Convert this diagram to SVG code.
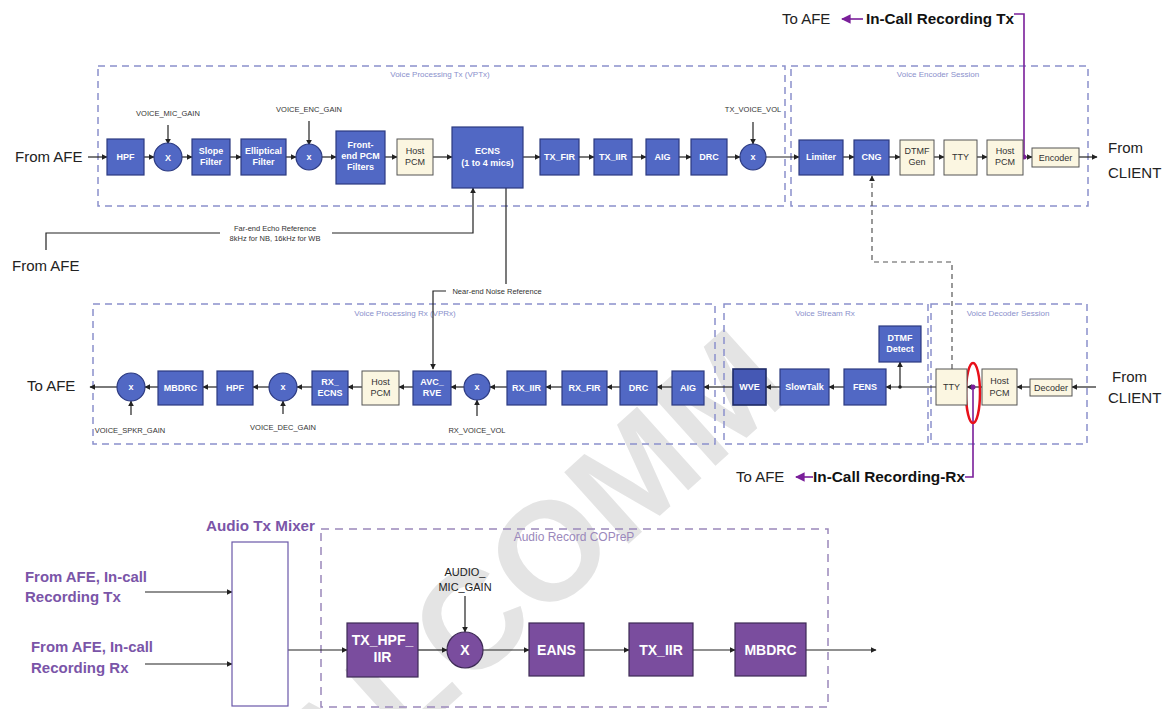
<svg xmlns="http://www.w3.org/2000/svg" width="1167" height="709" viewBox="0 0 1167 709">
  <defs>
    <marker id="arr" viewBox="0 0 10 10" refX="9" refY="5" markerWidth="5" markerHeight="5" orient="auto">
      <path d="M0,0 L10,5 L0,10 z" fill="#222"/>
    </marker>
    <marker id="arrP" viewBox="0 0 10 10" refX="9" refY="5" markerWidth="6" markerHeight="6" orient="auto">
      <path d="M0,0 L10,5 L0,10 z" fill="#7a1f9a"/>
    </marker>
    <style>
      .blk{fill:#5168c4;stroke:#2c3a80;stroke-width:1.2}
      .wve{fill:#4558b4;stroke:#1f2b66;stroke-width:1.6}
      .beige{fill:#fbf6e1;stroke:#555;stroke-width:1}
      .pur{fill:#7a4d9e;stroke:#3d2a55;stroke-width:1.2}
      .bt{fill:#fff;font-family:"Liberation Sans",Arial,sans-serif;font-weight:bold;font-size:9px;text-anchor:middle}
      .dt{fill:#333;font-family:"Liberation Sans",Arial,sans-serif;font-size:9px;text-anchor:middle}
      .pt{fill:#fff;font-family:"Liberation Sans",Arial,sans-serif;font-weight:bold;font-size:14px;text-anchor:middle}
      .lbl{fill:#333;font-family:"Liberation Sans",Arial,sans-serif;font-size:7.5px;text-anchor:middle}
      .grp{fill:none;stroke:#8a90cc;stroke-width:1.5;stroke-dasharray:7 5}
      .grpP{fill:none;stroke:#9a88bb;stroke-width:1.5;stroke-dasharray:8 6}
      .gl{fill:#8a90cc;font-family:"Liberation Sans",Arial,sans-serif;font-size:8px;text-anchor:middle}
      .big{fill:#222;font-family:"Liberation Sans",Arial,sans-serif;font-size:15px}
      .rec{fill:#111;font-family:"Liberation Sans",Arial,sans-serif;font-weight:bold;font-size:15px}
      .pl{fill:#7a55a8;font-family:"Liberation Sans",Arial,sans-serif;font-weight:bold;font-size:15px}
      .wire{fill:none;stroke:#222;stroke-width:1.2}
      .pw{fill:none;stroke:#7a1f9a;stroke-width:1.6}
      .dash{fill:none;stroke:#555;stroke-width:1.2;stroke-dasharray:5 4}
    </style>
  </defs>

  <rect width="1167" height="709" fill="#fff"/>

  <!-- background watermark -->
  <text transform="translate(171,956) rotate(-42)" x="0" y="0" font-family="Liberation Sans,Arial,sans-serif" font-weight="bold" font-size="140" fill="#e4e4e4">QUALCOMM</text>

  <!-- group frames -->
  <g id="frames">
    <rect class="grp" x="98" y="66" width="687" height="140"/>
    <text class="gl" x="440" y="77">Voice Processing Tx (VPTx)</text>
    <rect class="grp" x="791" y="66" width="297" height="140"/>
    <text class="gl" x="938" y="77">Voice Encoder Session</text>
    <rect class="grp" x="93" y="304" width="622" height="140"/>
    <text class="gl" x="405" y="316">Voice Processing Rx (VPRx)</text>
    <rect class="grp" x="724" y="304" width="204" height="140"/>
    <text class="gl" x="825" y="316">Voice Stream Rx</text>
    <rect class="grp" x="931" y="304" width="156" height="140"/>
    <text class="gl" x="1008" y="316">Voice Decoder Session</text>
    <rect class="grpP" x="321" y="529" width="507" height="178"/>
    <text x="574" y="541" font-family="Liberation Sans,Arial,sans-serif" font-size="12" fill="#9a88bb" text-anchor="middle">Audio Record COPreP</text>
  </g>

  <!-- connectors -->
  <g id="connectors">
    <!-- Tx chain -->
    <path class="wire" marker-end="url(#arr)" d="M88,157 H107"/>
    <path class="wire" marker-end="url(#arr)" d="M144,157 H154"/>
    <path class="wire" marker-end="url(#arr)" d="M182,157 H192"/>
    <path class="wire" marker-end="url(#arr)" d="M230,157 H241"/>
    <path class="wire" marker-end="url(#arr)" d="M286,157 H296"/>
    <path class="wire" marker-end="url(#arr)" d="M322,157 H336"/>
    <path class="wire" marker-end="url(#arr)" d="M385,157 H397"/>
    <path class="wire" marker-end="url(#arr)" d="M433,157 H452"/>
    <path class="wire" marker-end="url(#arr)" d="M523,157 H540"/>
    <path class="wire" marker-end="url(#arr)" d="M579,157 H594"/>
    <path class="wire" marker-end="url(#arr)" d="M632,157 H646"/>
    <path class="wire" marker-end="url(#arr)" d="M679,157 H691"/>
    <path class="wire" marker-end="url(#arr)" d="M727,157 H740"/>
    <path class="wire" marker-end="url(#arr)" d="M766,157 H799"/>
    <path class="wire" marker-end="url(#arr)" d="M843,157 H854"/>
    <path class="wire" marker-end="url(#arr)" d="M889,157 H900"/>
    <path class="wire" marker-end="url(#arr)" d="M934,157 H944"/>
    <path class="wire" marker-end="url(#arr)" d="M977,157 H987"/>
    <path class="wire" marker-end="url(#arr)" d="M1023,157 H1032"/>
    <path class="wire" marker-end="url(#arr)" d="M1079,157 H1097"/>
    <!-- Tx gains -->
    <path class="wire" marker-end="url(#arr)" d="M168,125 V144"/>
    <path class="wire" marker-end="url(#arr)" d="M309,121 V145"/>
    <path class="wire" marker-end="url(#arr)" d="M753,122 V144"/>
    <!-- far-end echo reference -->
    <path class="wire" d="M46,250 V233 H220"/>
    <path class="wire" marker-end="url(#arr)" d="M332,233 H473 V188"/>
    <!-- near-end noise reference -->
    <path class="wire" d="M506,188 V284"/>
    <path class="wire" marker-end="url(#arr)" d="M446,291 H433 V369"/>
    <!-- comfort noise control -->
    <path class="dash" marker-end="url(#arr)" d="M952,369 V262 H872 V176"/>

    <!-- Rx chain -->
    <path class="wire" marker-end="url(#arr)" d="M1096,387 H1072"/>
    <path class="wire" marker-end="url(#arr)" d="M1030,387 H1017"/>
    <path class="wire" marker-end="url(#arr)" d="M982,387 H967"/>
    <path class="wire" marker-end="url(#arr)" d="M936,387 H886"/>
    <path class="wire" marker-end="url(#arr)" d="M900,387 V362"/>
    <path class="wire" marker-end="url(#arr)" d="M844,387 H829"/>
    <path class="wire" marker-end="url(#arr)" d="M780,387 H766"/>
    <path class="wire" marker-end="url(#arr)" d="M733,387 H704"/>
    <path class="wire" marker-end="url(#arr)" d="M672,387 H657"/>
    <path class="wire" marker-end="url(#arr)" d="M620,387 H607"/>
    <path class="wire" marker-end="url(#arr)" d="M562,387 H546"/>
    <path class="wire" marker-end="url(#arr)" d="M507,387 H490"/>
    <path class="wire" marker-end="url(#arr)" d="M464,387 H451"/>
    <path class="wire" marker-end="url(#arr)" d="M413,387 H399"/>
    <path class="wire" marker-end="url(#arr)" d="M362,387 H348"/>
    <path class="wire" marker-end="url(#arr)" d="M312,387 H297"/>
    <path class="wire" marker-end="url(#arr)" d="M269,387 H253"/>
    <path class="wire" marker-end="url(#arr)" d="M217,387 H203"/>
    <path class="wire" marker-end="url(#arr)" d="M158,387 H145"/>
    <path class="wire" marker-end="url(#arr)" d="M117,387 H90"/>
    <circle cx="900" cy="387" r="1.8" fill="#222"/>
    <!-- Rx gains -->
    <path class="wire" marker-end="url(#arr)" d="M131,415 V401"/>
    <path class="wire" marker-end="url(#arr)" d="M283,414 V401"/>
    <path class="wire" marker-end="url(#arr)" d="M477,416 V400"/>

    <!-- in-call recording taps -->
    <path class="pw" d="M1024,157 V14 H1014"/>
    <circle cx="1024" cy="157" r="2.5" fill="#7a1f9a"/>
    <path class="pw" marker-end="url(#arrP)" d="M863,19 H842"/>
    <path class="pw" d="M973,387 V477 H965"/>
    <circle cx="973" cy="387" r="2.5" fill="#7a1f9a"/>
    <path class="pw" marker-end="url(#arrP)" d="M813,477 H796"/>
    <ellipse cx="973" cy="393" rx="7" ry="30" fill="none" stroke="#e8101a" stroke-width="2.5"/>

    <!-- audio record path -->
    <path class="wire" marker-end="url(#arr)" d="M145,592 H232"/>
    <path class="wire" marker-end="url(#arr)" d="M145,664 H232"/>
    <path class="wire" marker-end="url(#arr)" d="M288,650 H347"/>
    <path class="wire" marker-end="url(#arr)" d="M418,650 H447"/>
    <path class="wire" marker-end="url(#arr)" d="M483,650 H529"/>
    <path class="wire" marker-end="url(#arr)" d="M584,650 H629"/>
    <path class="wire" marker-end="url(#arr)" d="M693,650 H735"/>
    <path class="wire" marker-end="url(#arr)" d="M806,650 H876"/>
    <path class="wire" marker-end="url(#arr)" d="M465,596 V632"/>
  </g>

  <!-- endpoint and annotation text -->
  <g id="labels">
    <text class="big" x="15" y="162">From AFE</text>
    <text class="big" x="12" y="271">From AFE</text>
    <text class="big" x="1108" y="153">From</text>
    <text class="big" x="1108" y="178">CLIENT</text>
    <text class="big" x="27" y="391">To AFE</text>
    <text class="big" x="1112" y="382">From</text>
    <text class="big" x="1108" y="403">CLIENT</text>
    <text class="big" x="782" y="24">To AFE</text>
    <text class="rec" x="866" y="24" textLength="148" lengthAdjust="spacingAndGlyphs">In-Call Recording Tx</text>
    <text class="big" x="736" y="482">To AFE</text>
    <text class="rec" x="813" y="482" textLength="152" lengthAdjust="spacingAndGlyphs">In-Call Recording-Rx</text>

    <text class="lbl" x="168" y="116">VOICE_MIC_GAIN</text>
    <text class="lbl" x="309" y="112">VOICE_ENC_GAIN</text>
    <text class="lbl" x="753" y="112">TX_VOICE_VOL</text>
    <text class="lbl" x="275" y="231">Far-end Echo Reference</text>
    <text class="lbl" x="275" y="241">8kHz for NB, 16kHz for WB</text>
    <text class="lbl" x="497" y="294">Near-end Noise Reference</text>
    <text class="lbl" x="130" y="433">VOICE_SPKR_GAIN</text>
    <text class="lbl" x="283" y="430">VOICE_DEC_GAIN</text>
    <text class="lbl" x="477" y="433">RX_VOICE_VOL</text>

    <text class="pl" x="206" y="531" textLength="109" lengthAdjust="spacingAndGlyphs">Audio Tx Mixer</text>
    <text class="pl" x="25" y="582" textLength="122" lengthAdjust="spacingAndGlyphs">From AFE, In-call</text>
    <text class="pl" x="25" y="602">Recording Tx</text>
    <text class="pl" x="31" y="652" textLength="122" lengthAdjust="spacingAndGlyphs">From AFE, In-call</text>
    <text class="pl" x="31" y="673">Recording Rx</text>
    <text x="465" y="576" font-family="Liberation Sans,Arial,sans-serif" font-size="11" fill="#222" text-anchor="middle">AUDIO_</text>
    <text x="465" y="591" font-family="Liberation Sans,Arial,sans-serif" font-size="11" fill="#222" text-anchor="middle">MIC_GAIN</text>
  </g>

  <!-- Tx nodes -->
  <g id="tx-hpf"><rect class="blk" x="107" y="139" width="37" height="36"/><text class="bt" x="125.5" y="160">HPF</text></g>
  <g id="tx-mic-gain"><circle class="blk" cx="168" cy="157" r="14"/><text class="bt" x="168" y="161">X</text></g>
  <g id="tx-slope"><rect class="blk" x="192" y="139" width="38" height="36"/><text class="bt" x="211" y="154">Slope</text><text class="bt" x="211" y="165">Filter</text></g>
  <g id="tx-elliptical"><rect class="blk" x="241" y="139" width="45" height="36"/><text class="bt" x="263.5" y="154">Elliptical</text><text class="bt" x="263.5" y="165">Filter</text></g>
  <g id="tx-enc-gain"><circle class="blk" cx="309" cy="157" r="13"/><text class="bt" x="309" y="160">x</text></g>
  <g id="tx-frontend"><rect class="blk" x="336" y="131" width="49" height="53"/><text class="bt" x="360.5" y="148">Front-</text><text class="bt" x="360.5" y="159">end PCM</text><text class="bt" x="360.5" y="170">Filters</text></g>
  <g id="tx-hostpcm"><rect class="beige" x="397" y="139" width="36" height="36"/><text class="dt" x="415" y="154">Host</text><text class="dt" x="415" y="165">PCM</text></g>
  <g id="tx-ecns"><rect class="blk" x="452" y="127" width="71" height="61"/><text class="bt" x="487.5" y="154" font-size="10">ECNS</text><text class="bt" x="487.5" y="166" font-size="10">(1 to 4 mics)</text></g>
  <g id="tx-fir"><rect class="blk" x="540" y="139" width="39" height="36"/><text class="bt" x="559.5" y="160">TX_FIR</text></g>
  <g id="tx-iir"><rect class="blk" x="594" y="139" width="38" height="36"/><text class="bt" x="613" y="160">TX_IIR</text></g>
  <g id="tx-aig"><rect class="blk" x="646" y="139" width="33" height="36"/><text class="bt" x="662.5" y="160">AIG</text></g>
  <g id="tx-drc"><rect class="blk" x="691" y="139" width="36" height="36"/><text class="bt" x="709" y="160">DRC</text></g>
  <g id="tx-vol"><circle class="blk" cx="753" cy="157" r="13"/><text class="bt" x="753" y="160">x</text></g>
  <g id="enc-limiter"><rect class="blk" x="799" y="140" width="44" height="35"/><text class="bt" x="821" y="160">Limiter</text></g>
  <g id="enc-cng"><rect class="blk" x="854" y="140" width="35" height="35"/><text class="bt" x="871.5" y="160">CNG</text></g>
  <g id="enc-dtmf"><rect class="beige" x="900" y="140" width="34" height="35"/><text class="dt" x="917" y="154">DTMF</text><text class="dt" x="917" y="165">Gen</text></g>
  <g id="enc-tty"><rect class="beige" x="944" y="140" width="33" height="35"/><text class="dt" x="960.5" y="160">TTY</text></g>
  <g id="enc-hostpcm"><rect class="beige" x="987" y="140" width="36" height="35"/><text class="dt" x="1005" y="154">Host</text><text class="dt" x="1005" y="165">PCM</text></g>
  <g id="enc-encoder"><rect class="beige" x="1032" y="148" width="47" height="19"/><text class="dt" x="1055.5" y="160.5">Encoder</text></g>

  <!-- Rx nodes -->
  <g id="rx-spkr-gain"><circle class="blk" cx="131" cy="387" r="14"/><text class="bt" x="131" y="390">x</text></g>
  <g id="rx-mbdrc"><rect class="blk" x="158" y="371" width="45" height="34"/><text class="bt" x="180.5" y="391">MBDRC</text></g>
  <g id="rx-hpf"><rect class="blk" x="217" y="371" width="36" height="34"/><text class="bt" x="235" y="391">HPF</text></g>
  <g id="rx-dec-gain"><circle class="blk" cx="283" cy="387" r="14"/><text class="bt" x="283" y="390">x</text></g>
  <g id="rx-ecns"><rect class="blk" x="312" y="371" width="36" height="34"/><text class="bt" x="330" y="385">RX_</text><text class="bt" x="330" y="396">ECNS</text></g>
  <g id="rx-hostpcm"><rect class="beige" x="362" y="371" width="37" height="34"/><text class="dt" x="380.5" y="385">Host</text><text class="dt" x="380.5" y="396">PCM</text></g>
  <g id="rx-avc"><rect class="blk" x="413" y="371" width="38" height="34"/><text class="bt" x="432" y="385">AVC_</text><text class="bt" x="432" y="396">RVE</text></g>
  <g id="rx-vol"><circle class="blk" cx="477" cy="387" r="13"/><text class="bt" x="477" y="390">x</text></g>
  <g id="rx-iir"><rect class="blk" x="507" y="371" width="39" height="34"/><text class="bt" x="526.5" y="391">RX_IIR</text></g>
  <g id="rx-fir"><rect class="blk" x="562" y="371" width="45" height="34"/><text class="bt" x="584.5" y="391">RX_FIR</text></g>
  <g id="rx-drc"><rect class="blk" x="620" y="371" width="37" height="34"/><text class="bt" x="638.5" y="391">DRC</text></g>
  <g id="rx-aig"><rect class="blk" x="672" y="371" width="32" height="34"/><text class="bt" x="688" y="391">AIG</text></g>
  <g id="rx-wve"><rect class="wve" x="733" y="369" width="33" height="36"/><text class="bt" x="749.5" y="390">WVE</text></g>
  <g id="rx-slowtalk"><rect class="blk" x="780" y="369" width="49" height="36"/><text class="bt" x="804.5" y="390">SlowTalk</text></g>
  <g id="rx-fens"><rect class="blk" x="844" y="369" width="42" height="36"/><text class="bt" x="865" y="390">FENS</text></g>
  <g id="rx-dtmf"><rect class="blk" x="879" y="326" width="42" height="36"/><text class="bt" x="900" y="341">DTMF</text><text class="bt" x="900" y="352">Detect</text></g>
  <g id="dec-tty"><rect class="beige" x="936" y="369" width="31" height="36"/><text class="dt" x="951.5" y="390">TTY</text></g>
  <g id="dec-hostpcm"><rect class="beige" x="982" y="369" width="35" height="36"/><text class="dt" x="999.5" y="384">Host</text><text class="dt" x="999.5" y="396">PCM</text></g>
  <g id="dec-decoder"><rect class="beige" x="1030" y="379" width="42" height="17"/><text class="dt" x="1051" y="390.5">Decoder</text></g>

  <!-- audio record nodes -->
  <g id="mixer"><rect x="232" y="542" width="56" height="164" fill="#fff" stroke="#6a58a8" stroke-width="1.2"/></g>
  <g id="ar-hpf"><rect class="pur" x="347" y="623" width="71" height="54"/><text class="pt" x="382.5" y="645">TX_HPF_</text><text class="pt" x="382.5" y="662">IIR</text></g>
  <g id="ar-gain"><circle class="pur" cx="465" cy="650" r="18"/><text class="pt" x="465" y="655">X</text></g>
  <g id="ar-eans"><rect class="pur" x="529" y="623" width="55" height="53"/><text class="pt" x="556.5" y="655">EANS</text></g>
  <g id="ar-iir"><rect class="pur" x="629" y="623" width="64" height="53"/><text class="pt" x="661" y="655">TX_IIR</text></g>
  <g id="ar-mbdrc"><rect class="pur" x="735" y="623" width="71" height="53"/><text class="pt" x="770.5" y="655">MBDRC</text></g>
</svg>
